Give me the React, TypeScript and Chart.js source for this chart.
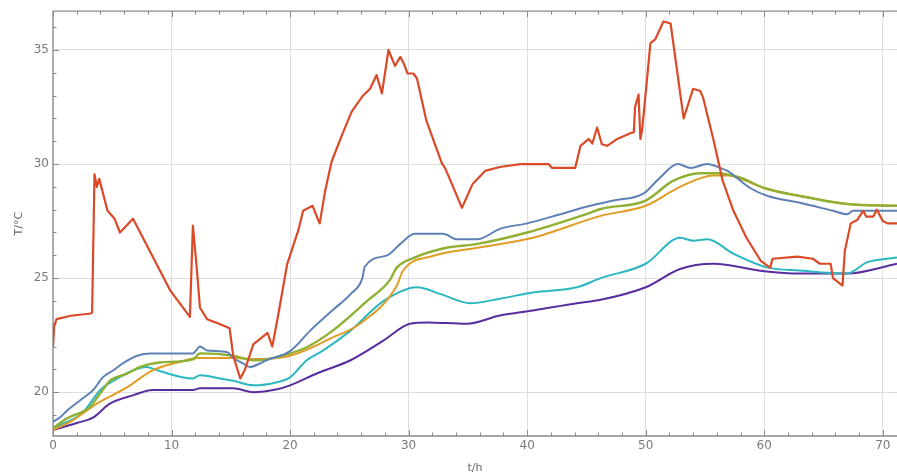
import React, { useEffect, useRef } from "react";
import { Chart, registerables } from "chart.js";

Chart.register(...registerables);

// ---- axis ticks ----
const xTickValues = [0, 10, 20, 30, 40, 50, 60, 70];
const yTickValues = [20, 25, 30, 35];
const xMinorStep = 2;
const yMinorStep = 1;
const xTitle = "t/h";
const yTitle = "T/°C";

// ---- series (t in h, T in °C) ----
const redT = [0, 0.1, 0.3, 1.5, 3.2, 3.3, 3.5, 3.7, 3.9, 4.6, 5.2, 5.65, 6.75, 8.8, 9.9, 11.55, 11.8, 12.1, 12.4, 13.0, 14.0, 14.9, 15.2, 15.8, 16.2, 16.9, 18.1, 18.5, 18.9, 19.75, 20.7, 21.1, 21.9, 22.3, 22.5, 22.95, 23.5, 24.4, 25.2, 26.1, 26.75, 27.3, 27.75, 28.3, 28.85, 29.3, 29.6, 29.9, 30.4, 30.7, 31.5, 32.8, 33.1, 34.5, 35.4, 36.45, 37.7, 39.4, 41.8, 42.1, 44.05, 44.5, 45.2, 45.5, 45.9, 46.3, 46.75, 47.6, 48.7, 49.0, 49.1, 49.4, 49.55, 49.7, 50.4, 50.8, 51.5, 52.1, 53.2, 54.0, 54.6, 54.85, 55.7, 56.5, 57.4, 58.5, 59.7, 60.5, 60.7, 62.8, 64.1, 64.7, 65.6, 65.8, 66.6, 66.8, 67.3, 67.85, 68.35, 68.6, 69.2, 69.5, 70.0, 70.4, 71.2];
const redV = [22.0, 22.9, 23.2, 23.35, 23.45, 23.5, 29.55, 29.0, 29.35, 27.95, 27.6, 27.0, 27.6, 25.55, 24.45, 23.3, 27.3, 25.6, 23.7, 23.2, 23.0, 22.8, 21.6, 20.6, 21.0, 22.1, 22.6, 22.0, 23.1, 25.6, 27.1, 27.95, 28.17, 27.64, 27.4, 28.8, 30.1, 31.3, 32.3, 32.97, 33.3, 33.9, 33.1, 35.0, 34.3, 34.7, 34.4, 33.97, 33.97, 33.76, 31.9, 30.04, 29.8, 28.08, 29.13, 29.7, 29.87, 30.0, 30.0, 29.83, 29.83, 30.8, 31.1, 30.9, 31.6, 30.87, 30.8, 31.1, 31.35, 31.4, 32.5, 33.05, 31.1, 31.5, 35.3, 35.46, 36.25, 36.16, 32.0, 33.3, 33.2, 32.9, 31.1, 29.26, 27.95, 26.77, 25.76, 25.46, 25.85, 25.94, 25.85, 25.63, 25.63, 25.0, 24.67, 26.2, 27.4, 27.55, 27.95, 27.7, 27.7, 28.0, 27.5, 27.4, 27.4];

const blueT = [0, 0.6, 1.2, 2.3, 3.4, 4.2, 5.1, 5.9, 7.1, 8.2, 11.8, 12.4, 13.0, 14.7, 15.2, 16.0, 16.6, 17.5, 18.0, 20.0, 21.7, 23.6, 25.1, 26.1, 26.3, 28.2, 29.3, 30.5, 32.9, 34.1, 35.8, 37.7, 40.0, 42.8, 45.3, 47.3, 49.8, 51.2, 52.7, 53.8, 55.2, 56.3, 56.9, 58.8, 60.3, 63.0, 65.8, 67.0, 67.5, 71.2];
const blueV = [18.7, 18.9, 19.2, 19.65, 20.1, 20.65, 20.96, 21.27, 21.6, 21.7, 21.7, 22.0, 21.83, 21.75, 21.5, 21.27, 21.1, 21.27, 21.4, 21.8, 22.7, 23.6, 24.3, 25.0, 25.5, 26.0, 26.5, 26.94, 26.94, 26.7, 26.7, 27.16, 27.4, 27.8, 28.17, 28.4, 28.7, 29.4, 30.0, 29.83, 30.0, 29.83, 29.7, 28.95, 28.6, 28.3, 27.95, 27.8, 27.95, 27.95];

const greenT = [0, 1.2, 3.1, 4.0, 4.8, 6.2, 7.3, 9.0, 11.8, 12.4, 15.2, 16.9, 18.0, 20.0, 21.4, 23.6, 26.5, 28.4, 29.0, 30.5, 32.9, 35.8, 40.0, 45.3, 46.2, 50.0, 52.3, 54.6, 56.0, 58.0, 60.0, 63.0, 67.0, 71.2];
const greenV = [18.43, 18.86, 19.35, 19.96, 20.5, 20.8, 21.1, 21.3, 21.44, 21.7, 21.6, 21.4, 21.44, 21.7, 21.97, 22.7, 24.0, 24.9, 25.46, 25.9, 26.3, 26.5, 27.0, 27.86, 28.03, 28.4, 29.26, 29.6, 29.6, 29.4, 28.95, 28.6, 28.25, 28.17];

const orangeT = [0, 1.7, 3.7, 6.2, 8.4, 10.5, 12.2, 15.2, 17.0, 20.0, 23.6, 25.9, 29.0, 29.5, 32.1, 35.8, 40.5, 46.2, 50.0, 52.9, 55.7, 57.0, 58.0, 60.0, 63.0, 67.0, 71.2];
const orangeV = [18.34, 18.78, 19.5, 20.2, 20.96, 21.3, 21.5, 21.5, 21.45, 21.6, 22.4, 23.0, 24.67, 25.3, 25.98, 26.33, 26.77, 27.73, 28.17, 29.0, 29.5, 29.5, 29.35, 28.95, 28.6, 28.25, 28.17];

const cyanT = [0, 2.5, 4.0, 5.1, 6.8, 7.9, 8.8, 11.8, 12.4, 14.1, 15.2, 16.9, 18.9, 20.0, 21.4, 22.8, 25.1, 27.9, 30.7, 32.7, 35.2, 37.7, 40.5, 44.2, 46.2, 50.0, 52.9, 54.0, 55.2, 57.4, 60.3, 63.0, 67.0, 68.7, 71.2];
const cyanV = [18.43, 19.1, 20.1, 20.5, 20.96, 21.1, 20.96, 20.6, 20.74, 20.6, 20.5, 20.3, 20.44, 20.65, 21.4, 21.83, 22.7, 24.0, 24.6, 24.3, 23.9, 24.1, 24.37, 24.6, 25.0, 25.63, 26.77, 26.64, 26.7, 26.07, 25.46, 25.33, 25.2, 25.7, 25.9];

const purpleT = [0, 2.0, 3.4, 4.8, 6.8, 8.4, 11.8, 12.4, 15.2, 16.9, 18.9, 20.0, 22.3, 25.1, 27.9, 30.1, 31.6, 34.9, 37.7, 40.5, 44.2, 46.2, 50.0, 52.9, 55.7, 60.0, 63.0, 67.0, 71.2];
const purpleV = [18.34, 18.65, 18.9, 19.5, 19.87, 20.1, 20.1, 20.17, 20.17, 20.0, 20.13, 20.3, 20.83, 21.4, 22.27, 23.0, 23.06, 23.0, 23.36, 23.58, 23.9, 24.05, 24.6, 25.4, 25.63, 25.3, 25.2, 25.2, 25.63];

const pts = (ts: number[], vs: number[]) => ts.map((t, i) => ({ x: t, y: vs[i] }));

const framePlugin = {
  id: "mmaFrame",
  beforeDatasetsDraw(chart: any) {
    const { ctx, chartArea, scales } = chart;
    const { left, right, top, bottom } = chartArea;
    const x = scales.x;
    const y = scales.y;
    ctx.save();
    ctx.strokeStyle = "#8a8a8a";
    ctx.lineWidth = 1.3;
    ctx.beginPath();
    ctx.moveTo(right, top);
    ctx.lineTo(left, top);
    ctx.lineTo(left, bottom);
    ctx.lineTo(right, bottom);
    ctx.stroke();
    ctx.lineWidth = 1;
    ctx.beginPath();
    for (let v = x.min; v <= x.max + 1e-9; v += xMinorStep) {
      const px = Math.round(x.getPixelForValue(v)) + 0.5;
      const len = Math.abs(v % 10) < 1e-6 ? 6 : 3.5;
      ctx.moveTo(px, bottom);
      ctx.lineTo(px, bottom - len);
      ctx.moveTo(px, top);
      ctx.lineTo(px, top + len);
    }
    for (let v = Math.ceil(y.min); v <= y.max + 1e-9; v += yMinorStep) {
      const py = Math.round(y.getPixelForValue(v)) + 0.5;
      const len = Math.abs(v % 5) < 1e-6 ? 6 : 3.5;
      ctx.moveTo(left, py);
      ctx.lineTo(left + len, py);
    }
    ctx.stroke();
    ctx.restore();
  },
};

export default function App() {
  const ref = useRef<HTMLCanvasElement | null>(null);
  useEffect(() => {
    if (!ref.current) return;
    const common = { pointRadius: 0, borderWidth: 2, fill: false, borderJoinStyle: "round" as const };
    const smooth = { cubicInterpolationMode: "monotone" as const };
    const chart = new Chart(ref.current, {
      type: "line",
      data: {
        datasets: [
          { label: "red", data: pts(redT, redV), borderColor: "#DB4A28", ...common, borderWidth: 2.2, tension: 0 },
          { label: "blue", data: pts(blueT, blueV), borderColor: "#5E81B5", ...common, ...smooth },
          { label: "green", data: pts(greenT, greenV), borderColor: "#8FB032", ...common, borderWidth: 2.4, ...smooth },
          { label: "orange", data: pts(orangeT, orangeV), borderColor: "#E19C24", ...common, ...smooth },
          { label: "cyan", data: pts(cyanT, cyanV), borderColor: "#2CB7C0", ...common, ...smooth },
          { label: "purple", data: pts(purpleT, purpleV), borderColor: "#5A2D9F", ...common, ...smooth },
        ],
      },
      options: {
        responsive: false,
        animation: false,
        parsing: true,
        layout: { padding: { top: 9, left: 0, right: 0, bottom: 0 } },
        plugins: { legend: { display: false }, tooltip: { enabled: false }, title: { display: false } },
        scales: {
          x: {
            type: "linear",
            min: 0,
            max: 71.2,
            afterBuildTicks: (s: any) => {
              s.ticks = xTickValues.map((v) => ({ value: v }));
            },
            afterFit: (s: any) => {
              s.height = 39;
            },
            ticks: {
              includeBounds: false,
              padding: 3,
              color: "#7a7a7a",
              font: { family: "DejaVu Sans", size: 12 },
              maxRotation: 0,
              autoSkip: false,
            },
            grid: { color: "#dedede", lineWidth: 1, drawTicks: false },
            border: { display: false },
            title: {
              display: true,
              text: xTitle,
              color: "#666",
              font: { family: "DejaVu Sans", size: 11 },
              padding: { top: 0, bottom: 0 },
            },
          },
          y: {
            type: "linear",
            min: 18.08,
            max: 36.7,
            afterBuildTicks: (s: any) => {
              s.ticks = yTickValues.map((v) => ({ value: v }));
            },
            afterFit: (s: any) => {
              s.width = 53;
            },
            ticks: {
              includeBounds: false,
              padding: 4,
              color: "#7a7a7a",
              font: { family: "DejaVu Sans", size: 12 },
              autoSkip: false,
            },
            grid: { color: "#dedede", lineWidth: 1, drawTicks: false },
            border: { display: false },
            title: {
              display: true,
              text: yTitle,
              color: "#666",
              font: { family: "DejaVu Sans", size: 11 },
              padding: { top: 13, bottom: 0 },
            },
          },
        },
      },
      plugins: [framePlugin],
    });
    return () => chart.destroy();
  }, []);
  return (
    <div style={{ position: "absolute", left: 0, top: 0, width: 897, height: 475, background: "#fff" }}>
      <canvas ref={ref} width={897} height={475} style={{ display: "block" }} />
    </div>
  );
}
